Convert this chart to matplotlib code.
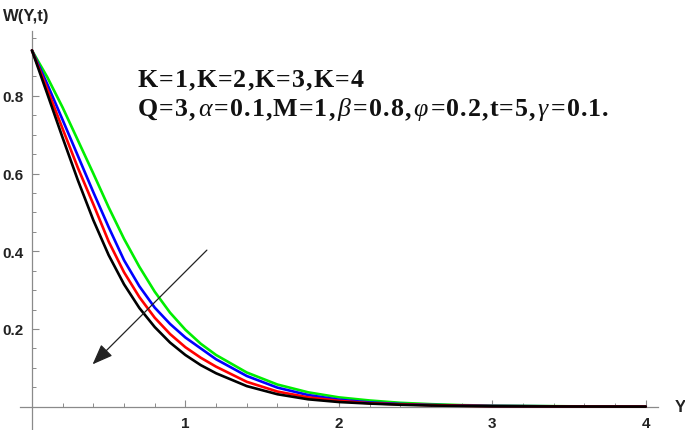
import matplotlib
matplotlib.use("Agg")
import matplotlib.pyplot as plt
from matplotlib.ticker import FixedLocator

# ---- data ----
Y = [0.0, 0.1, 0.2, 0.3, 0.4, 0.5, 0.6, 0.7, 0.8, 0.9, 1.0, 1.1, 1.2,
     1.4, 1.6, 1.8, 2.0, 2.2, 2.4, 2.6, 2.8, 3.0, 3.5, 4.0]
W_black = [0.917, 0.805, 0.692, 0.582, 0.480, 0.390, 0.315, 0.254, 0.205, 0.165, 0.133, 0.107, 0.086,
           0.053, 0.032, 0.019, 0.012, 0.008, 0.005, 0.003, 0.002, 0.001, 0.0005, 0.0002]
W_red = [0.917, 0.817, 0.715, 0.614, 0.521, 0.425, 0.346, 0.282, 0.229, 0.187, 0.153, 0.126, 0.103,
         0.064, 0.039, 0.024, 0.015, 0.009, 0.006, 0.004, 0.0025, 0.0015, 0.0006, 0.0002]
W_blue = [0.917, 0.830, 0.738, 0.645, 0.552, 0.462, 0.377, 0.310, 0.255, 0.213, 0.178, 0.150, 0.122,
          0.079, 0.049, 0.030, 0.018, 0.011, 0.007, 0.0045, 0.003, 0.002, 0.0007, 0.0003]
W_green = [0.917, 0.848, 0.770, 0.685, 0.600, 0.513, 0.432, 0.360, 0.296, 0.242, 0.198, 0.162, 0.133,
           0.088, 0.057, 0.037, 0.024, 0.016, 0.010, 0.0065, 0.004, 0.0027, 0.001, 0.0004]

x_major = [1, 2, 3, 4]
x_major_labels = ["1", "2", "3", "4"]
y_major = [0.2, 0.4, 0.6, 0.8]
y_major_labels = ["0.2", "0.4", "0.6", "0.8"]

arrow_start = (1.14, 0.403)
arrow_end = (0.395, 0.109)

label_line1 = "K=1,K=2,K=3,K=4"
label_line2 = "Q=3,\u03b1=0.1,M=1,\u03b2=0.8,\u03c6=0.2,t=5,\u03b3=0.1."
GREEK = "\u03b1\u03b2\u03c6\u03b3"

# ---- figure ----
fig = plt.figure(figsize=(6.85, 4.31), dpi=100)
ax = fig.add_axes([20/685, 0.0, 638/685, 1 - 32/431])
ax.set_xlim(-0.078, 4.08)
ax.set_ylim(-0.06, 0.967)

for w, c in [(W_green, "#00ee00"), (W_blue, "#0000ff"), (W_red, "#ff0000"), (W_black, "#000000")]:
    ax.plot(Y, w, color=c, lw=1.9, solid_capstyle="round", zorder=3)

axis_color = "#8a8a8a"
for s in ["top", "right"]:
    ax.spines[s].set_visible(False)
for s in ["left", "bottom"]:
    ax.spines[s].set_position(("data", 0))
    ax.spines[s].set_color(axis_color)
    ax.spines[s].set_linewidth(0.9)

ax.xaxis.set_major_locator(FixedLocator(x_major))
ax.set_xticklabels(x_major_labels)
ax.xaxis.set_minor_locator(FixedLocator([v / 5 for v in range(1, 20) if v % 5 != 0]))
ax.yaxis.set_major_locator(FixedLocator(y_major))
ax.set_yticklabels(y_major_labels)
ax.yaxis.set_minor_locator(FixedLocator([v / 20 for v in range(1, 20) if v % 4 != 0]))

ax.tick_params(which="major", direction="in", length=5, width=0.8, color=axis_color)
ax.tick_params(which="minor", direction="in", length=2.8, width=0.7, color=axis_color)
ax.tick_params(axis="x", which="major", pad=7)
ax.tick_params(axis="y", which="major", pad=6)
for lab in ax.get_xticklabels() + ax.get_yticklabels():
    lab.set_fontfamily("Liberation Sans")
    lab.set_fontweight("bold")
    lab.set_fontsize(11)
    lab.set_color("#222222")

ax.patch.set_alpha(0)

# axis labels
fig.text(3/685, 1 - 21/431, "W(Y,t)", fontsize=12, fontweight="bold",
         family="Liberation Sans", color="#222222", va="baseline", ha="left")
ax.annotate("Y", xy=(1, 0), xycoords=("axes fraction", "data"), xytext=(12, 0),
            textcoords="offset points", fontsize=12, fontweight="bold",
            family="Liberation Sans", color="#222222", va="center", ha="left",
            annotation_clip=False)

# arrow
ax.annotate("", xy=arrow_end, xytext=arrow_start,
            arrowprops=dict(arrowstyle="-|>,head_length=0.9,head_width=0.35",
                            color="#222222", lw=0.9, mutation_scale=14, shrinkA=0, shrinkB=0),
            zorder=4)


# parameter text, drawn character by character with slight tracking
def tracked_text(x, y, s, fs, track, greek_extra):
    prev = None
    prev_ch = None
    for ch in s:
        it = ch in GREEK
        kw = dict(fontsize=fs, fontweight="normal" if it else "bold",
                  fontstyle="italic" if it else "normal",
                  family="Liberation Serif", color="#111111")
        if prev is None:
            prev = ax.text(x, y, ch, va="baseline", ha="left", **kw)
        else:
            g = track + (greek_extra if (it or prev_ch in GREEK) else 0.0)
            prev = ax.annotate(ch, xy=(1, 0), xycoords=prev, va="bottom", ha="left",
                               xytext=(g, 0), textcoords="offset points", **kw)
        prev_ch = ch


fs = 18.6
tracked_text(0.69, 0.826, label_line1, fs, 0.75, 0.0)
tracked_text(0.69, 0.751, label_line2, fs, 0.75, 1.2)

fig.savefig("out.png", dpi=100)
